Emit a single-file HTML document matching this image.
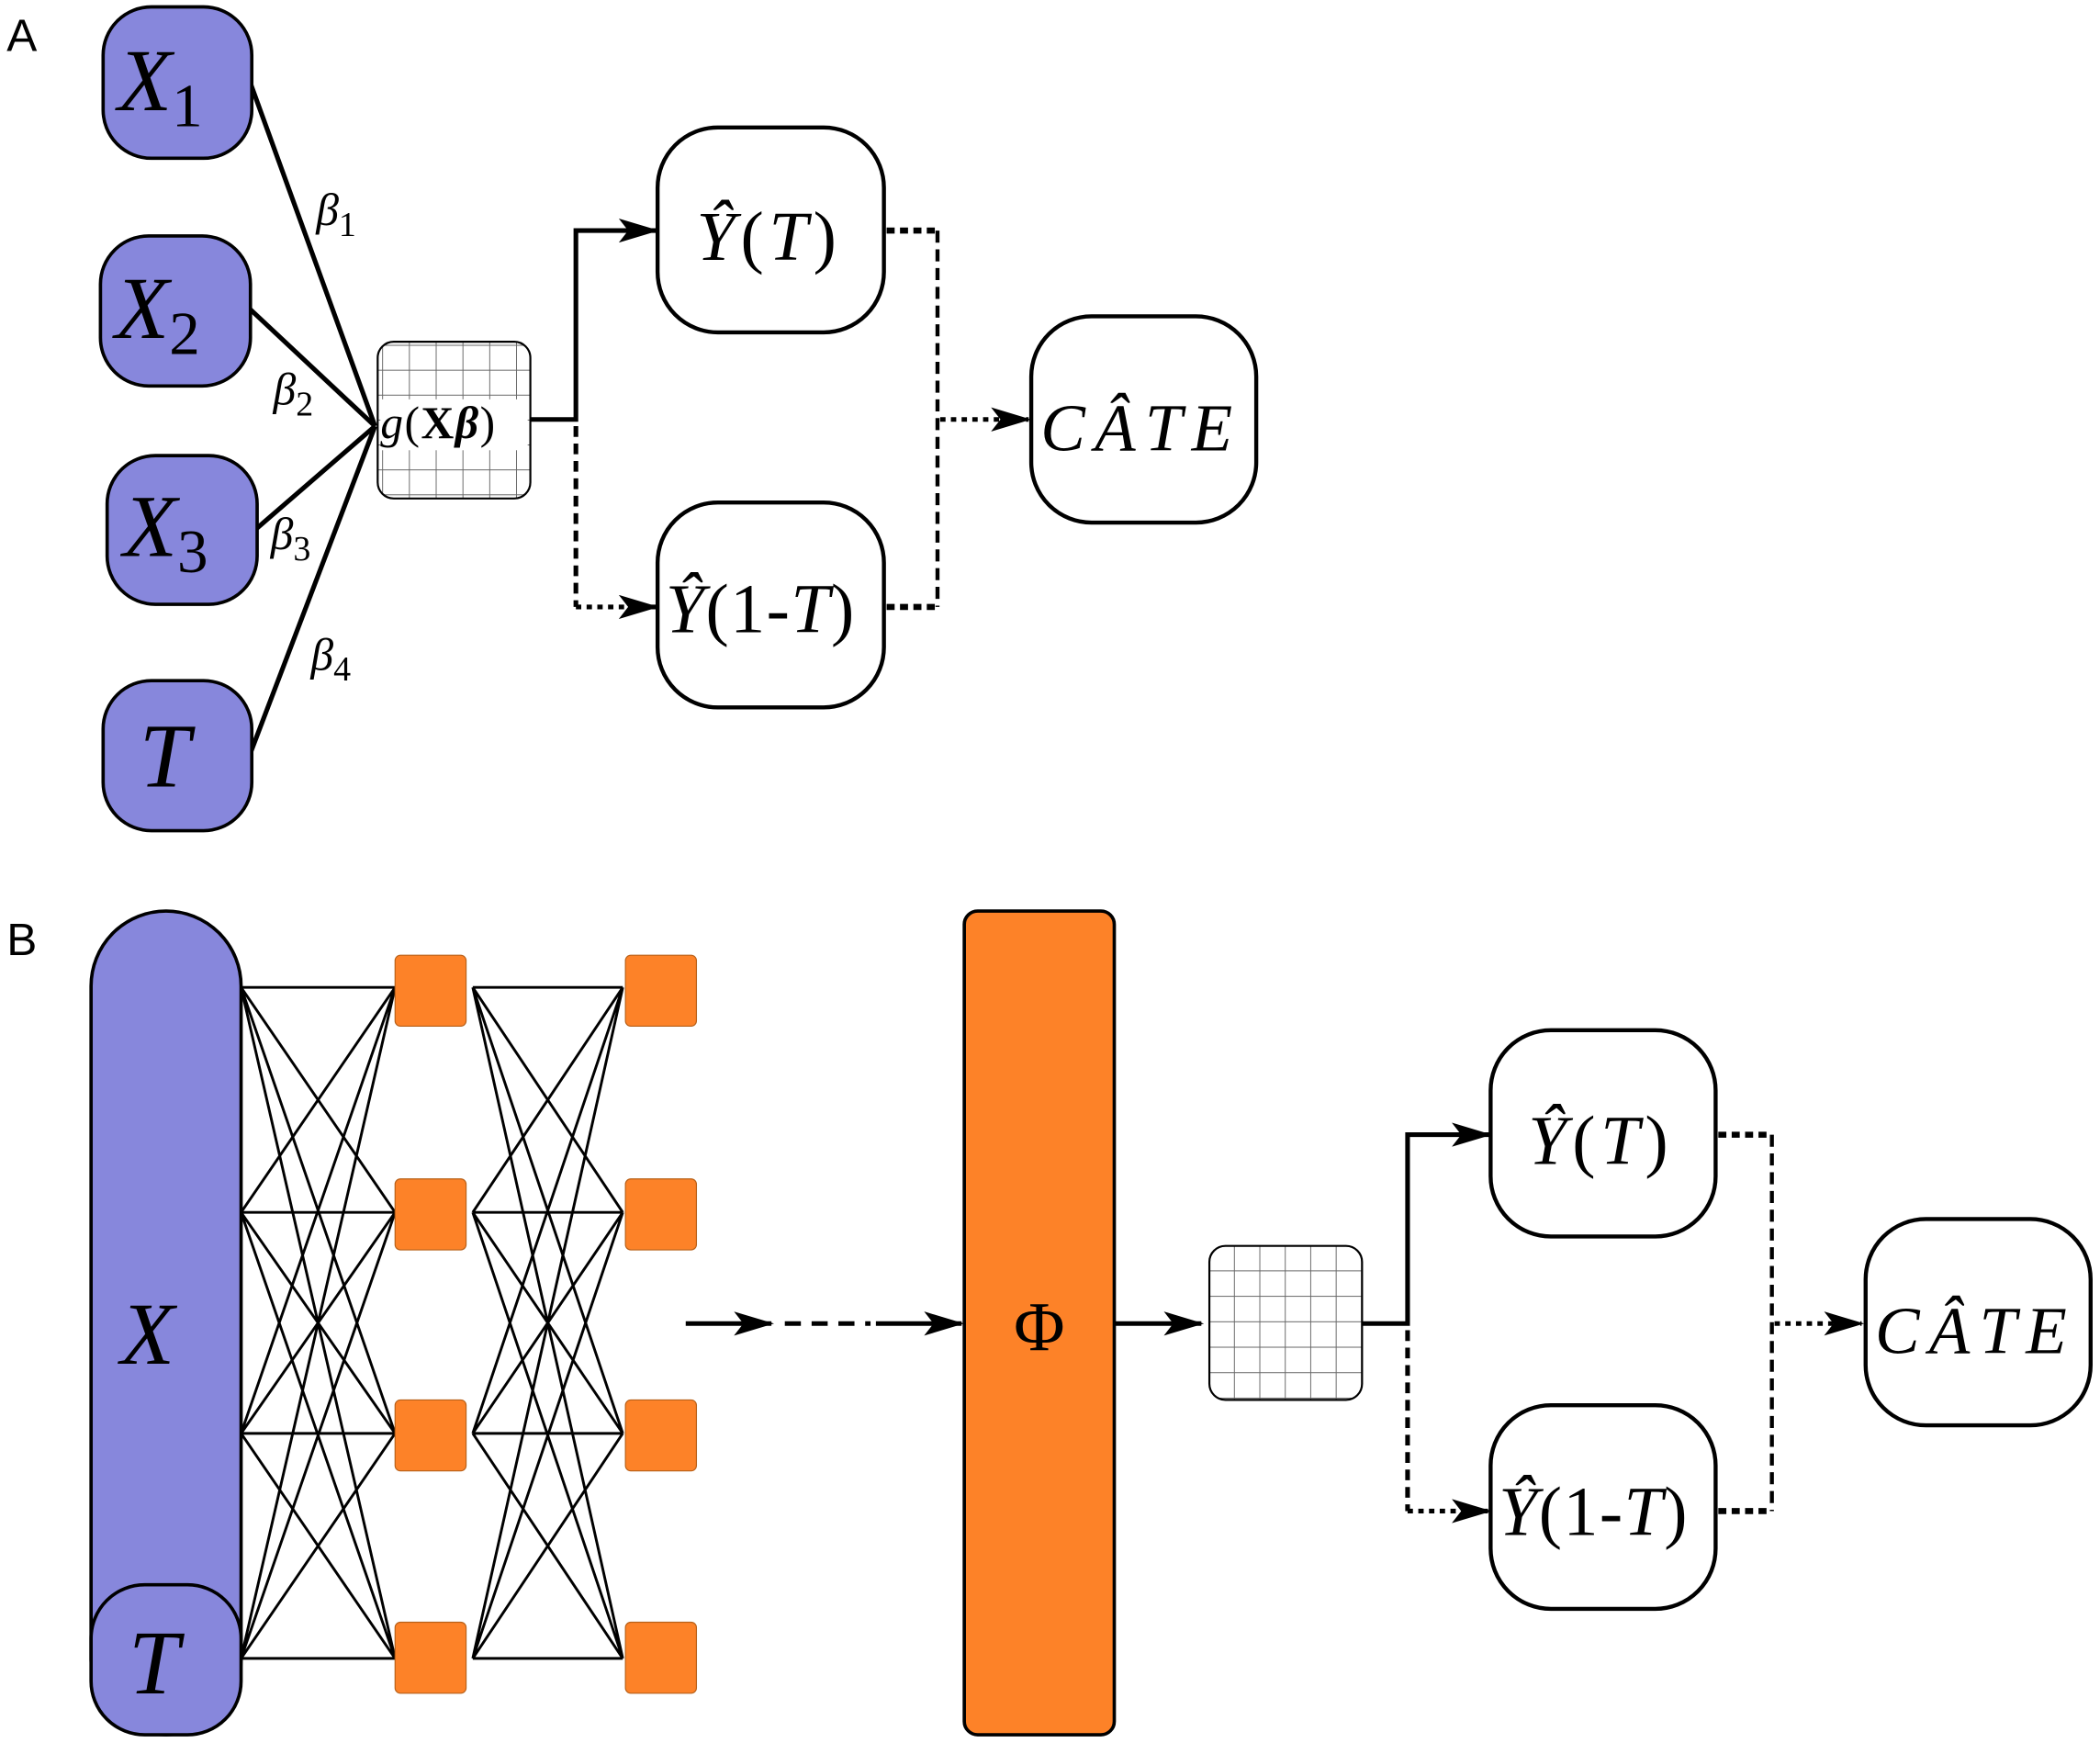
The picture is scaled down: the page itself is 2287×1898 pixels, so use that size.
<!DOCTYPE html>
<html><head><meta charset="utf-8"><style>
html,body{margin:0;padding:0;background:#fff;}
svg{display:block;}
text{font-family:"Liberation Serif",serif;font-style:italic;fill:#000;}
.lab{font-family:"Liberation Sans",sans-serif;font-style:normal;}
.n{font-style:normal;}
.b{font-weight:bold;}
</style></head><body>
<svg width="2287" height="1898" viewBox="0 0 1568 1301" xmlns="http://www.w3.org/2000/svg">
<defs>
<marker id="ahb" markerWidth="30" markerHeight="18" refX="28" refY="9" orient="auto" markerUnits="userSpaceOnUse">
<path d="M0,0 L30,9 L0,18 L7,9 Z" fill="#000"/>
</marker>
<pattern id="grid" width="20" height="18.6" patternUnits="userSpaceOnUse" x="286" y="258">
<path d="M20,0 V18.6 M0,18.6 H20" stroke="#666" stroke-width="1.3" fill="none"/>
</pattern>
<pattern id="grid2" width="19" height="19" patternUnits="userSpaceOnUse" x="903" y="930">
<path d="M19,0 V19 M0,19 H19" stroke="#666" stroke-width="1.3" fill="none"/>
</pattern>
</defs>
<text class="lab" x="5" y="38" font-size="34">A</text>
<text class="lab" x="5" y="713" font-size="34">B</text>

<g stroke="#000" stroke-width="3.5" fill="none">
<line x1="187" y1="62" x2="280" y2="318"/>
<line x1="186" y1="230" x2="280" y2="318"/>
<line x1="191" y1="395" x2="280" y2="318"/>
<line x1="187" y1="562" x2="280" y2="318"/>
</g>
<g fill="#8787dc" stroke="#000" stroke-width="2.5">
<rect x="77" y="5" width="111" height="113" rx="36"/>
<rect x="75" y="176" width="112" height="112" rx="36"/>
<rect x="80" y="340" width="112" height="111" rx="36"/>
<rect x="77" y="508" width="111" height="112" rx="36"/>
</g>
<text x="88" y="82" font-size="66">X<tspan class="n" font-size="46" dy="12">1</tspan></text>
<text x="86" y="252" font-size="66">X<tspan class="n" font-size="46" dy="12">2</tspan></text>
<text x="92" y="415" font-size="66">X<tspan class="n" font-size="46" dy="12">3</tspan></text>
<text x="104" y="587" font-size="68">T</text>
<text x="236" y="168" font-size="34">β<tspan class="n" font-size="26" dy="8">1</tspan></text>
<text x="204" y="302" font-size="34">β<tspan class="n" font-size="26" dy="8">2</tspan></text>
<text x="202" y="410" font-size="34">β<tspan class="n" font-size="26" dy="8">3</tspan></text>
<text x="232" y="500" font-size="34">β<tspan class="n" font-size="26" dy="8">4</tspan></text>

<rect x="282" y="255" width="114" height="117" rx="12" fill="url(#grid)" stroke="#000" stroke-width="1.5"/>
<rect x="284" y="298" width="110" height="38" fill="#fff"/>
<text x="284" y="327" font-size="34" letter-spacing="1">g<tspan class="n">(</tspan><tspan class="n b">X</tspan><tspan class="b">β</tspan><tspan class="n">)</tspan></text>

<path d="M396,313 H430 V172 H490" stroke="#000" stroke-width="3.5" fill="none" marker-end="url(#ahb)"/>
<path d="M430,318 V453" stroke="#000" stroke-width="3.5" fill="none" stroke-dasharray="8,5"/>
<path d="M430,453 H490" stroke="#000" stroke-width="3.5" fill="none" stroke-dasharray="4,4" marker-end="url(#ahb)"/>
<path d="M700,172 V453" stroke="#000" stroke-width="3" fill="none" stroke-dasharray="9,5"/>
<path d="M662,172 H700 M662,453 H700" stroke="#000" stroke-width="4.5" fill="none" stroke-dasharray="6,4"/>
<path d="M702,313 H768" stroke="#000" stroke-width="3.5" fill="none" stroke-dasharray="4,4" marker-end="url(#ahb)"/>

<g fill="#fff" stroke="#000" stroke-width="3">
<rect x="491" y="95" width="169" height="153" rx="45"/>
<rect x="491" y="375" width="169" height="153" rx="45"/>
<rect x="770" y="236" width="168" height="154" rx="45"/>
</g>
<text x="520" y="194" font-size="52" letter-spacing="4">Ŷ<tspan class="n">(</tspan>T<tspan class="n">)</tspan></text>
<text x="497" y="472" font-size="52" letter-spacing="1">Ŷ<tspan class="n">(1-</tspan>T<tspan class="n">)</tspan></text>
<text x="777" y="336" font-size="50" letter-spacing="7">CÂTE</text>

<g stroke="#000" stroke-width="2" fill="none">
<path d="M180,737 L295,737 M180,737 L295,905 M180,737 L295,1070 M180,737 L295,1238
M180,905 L295,737 M180,905 L295,905 M180,905 L295,1070 M180,905 L295,1238
M180,1070 L295,737 M180,1070 L295,905 M180,1070 L295,1070 M180,1070 L295,1238
M180,1238 L295,737 M180,1238 L295,905 M180,1238 L295,1070 M180,1238 L295,1238"/>
<path d="M353,737 L465,737 M353,737 L465,905 M353,737 L465,1070 M353,737 L465,1238
M353,905 L465,737 M353,905 L465,905 M353,905 L465,1070 M353,905 L465,1238
M353,1070 L465,737 M353,1070 L465,905 M353,1070 L465,1070 M353,1070 L465,1238
M353,1238 L465,737 M353,1238 L465,905 M353,1238 L465,1070 M353,1238 L465,1238"/>
</g>
<rect x="68" y="680" width="112" height="615" rx="56" fill="#8787dc" stroke="#000" stroke-width="2.5"/>
<rect x="68" y="1183" width="112" height="112" rx="40" fill="#8787dc" stroke="#000" stroke-width="2.5"/>
<text x="90" y="1018" font-size="66">X</text>
<text x="96" y="1264" font-size="68">T</text>

<g fill="#fd8228" stroke="#b86018" stroke-width="0.8">
<rect x="295" y="713" width="53" height="53" rx="4"/>
<rect x="295" y="880" width="53" height="53" rx="4"/>
<rect x="295" y="1045" width="53" height="53" rx="4"/>
<rect x="295" y="1211" width="53" height="53" rx="4"/>
<rect x="467" y="713" width="53" height="53" rx="4"/>
<rect x="467" y="880" width="53" height="53" rx="4"/>
<rect x="467" y="1045" width="53" height="53" rx="4"/>
<rect x="467" y="1211" width="53" height="53" rx="4"/>
</g>

<path d="M512,988 H576" stroke="#000" stroke-width="3.5" marker-end="url(#ahb)"/>
<path d="M586,988 H650" stroke="#000" stroke-width="3.5" stroke-dasharray="12,8"/>
<path d="M654,988 H718" stroke="#000" stroke-width="3.5" marker-end="url(#ahb)"/>

<rect x="720" y="680" width="112" height="615" rx="10" fill="#fd8228" stroke="#000" stroke-width="2.5"/>
<text class="n" x="776" y="1008" font-size="52" text-anchor="middle">Φ</text>
<path d="M832,988 H897" stroke="#000" stroke-width="3.5" marker-end="url(#ahb)"/>

<rect x="903" y="930" width="114" height="115" rx="12" fill="url(#grid2)" stroke="#000" stroke-width="1.5"/>

<path d="M1017,988 H1051 V847 H1112" stroke="#000" stroke-width="3.5" fill="none" marker-end="url(#ahb)"/>
<path d="M1051,993 V1128" stroke="#000" stroke-width="3.5" fill="none" stroke-dasharray="8,5"/>
<path d="M1051,1128 H1112" stroke="#000" stroke-width="3.5" fill="none" stroke-dasharray="4,4" marker-end="url(#ahb)"/>
<path d="M1323,847 V1128" stroke="#000" stroke-width="3" fill="none" stroke-dasharray="9,5"/>
<path d="M1283,847 H1323 M1283,1128 H1323" stroke="#000" stroke-width="4.5" fill="none" stroke-dasharray="6,4"/>
<path d="M1325,988 H1390" stroke="#000" stroke-width="3.5" fill="none" stroke-dasharray="4,4" marker-end="url(#ahb)"/>

<g fill="#fff" stroke="#000" stroke-width="3">
<rect x="1113" y="769" width="168" height="154" rx="45"/>
<rect x="1113" y="1049" width="168" height="152" rx="45"/>
<rect x="1393" y="910" width="168" height="154" rx="45"/>
</g>
<text x="1141" y="869" font-size="52" letter-spacing="4">Ŷ<tspan class="n">(</tspan>T<tspan class="n">)</tspan></text>
<text x="1119" y="1146" font-size="52" letter-spacing="1">Ŷ<tspan class="n">(1-</tspan>T<tspan class="n">)</tspan></text>
<text x="1400" y="1010" font-size="50" letter-spacing="7">CÂTE</text>
</svg>
</body></html>
